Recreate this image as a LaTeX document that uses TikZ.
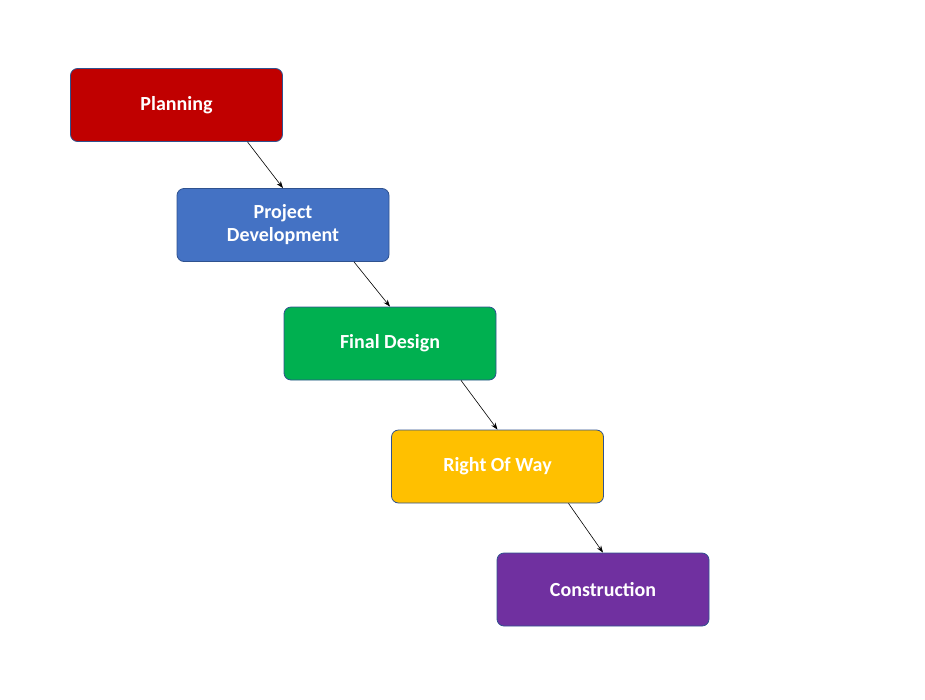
\documentclass[tikz,border=0pt]{standalone}
\usepackage{fontspec}
\setmainfont{Carlito}
\usetikzlibrary{arrows.meta}
\definecolor{cred}{HTML}{C00000}
\definecolor{cblue}{HTML}{4472C4}
\definecolor{cgreen}{HTML}{00B050}
\definecolor{cyel}{HTML}{FFC000}
\definecolor{cpur}{HTML}{7030A0}
\definecolor{cedge}{HTML}{2F528F}
\tikzset{
  stage/.style={draw=cedge, line width=0.8pt, rounded corners=7pt, minimum width=212pt, minimum height=73pt,
    text=white, font=\bfseries\fontsize{20}{23}\selectfont, align=center, inner sep=2pt},
  link/.style={-{Stealth[length=7pt,width=5pt]}, line width=0.6pt}
}
\begin{document}
\begin{tikzpicture}[x=1pt,y=-1pt]
\useasboundingbox (0,0) rectangle (925,699);
\node[stage, fill=cred] (a) at (176.5,105) {Planning};
\node[stage, fill=cblue] (b) at (283,225) {Project\\Development};
\node[stage, fill=cgreen] (c) at (390,343.5) {Final Design};
\node[stage, fill=cyel] (d) at (497.5,466.5) {Right Of Way};
\node[stage, fill=cpur] (e) at (603,589.5) {Construction};
\draw[link] ([xshift=71pt]a.south) -- (b.north);
\draw[link] ([xshift=71pt]b.south) -- (c.north);
\draw[link] ([xshift=71pt]c.south) -- (d.north);
\draw[link] ([xshift=71pt]d.south) -- (e.north);
\end{tikzpicture}
\end{document}
